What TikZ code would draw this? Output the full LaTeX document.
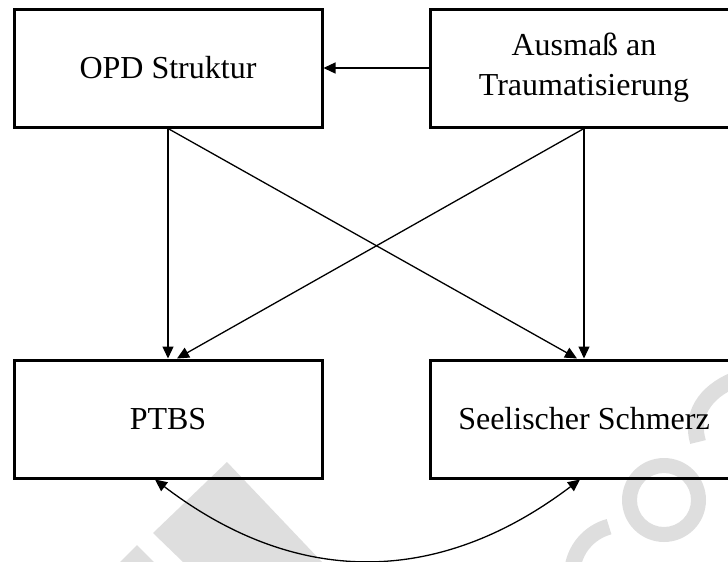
\documentclass[tikz,border=0pt]{standalone}
\usepackage{fontspec}
\setmainfont{Liberation Serif}
\usetikzlibrary{arrows.meta}
\begin{document}
\begin{tikzpicture}[x=1pt,y=-1pt,
  box/.style={draw, line width=3pt, minimum width=308pt, minimum height=118pt,
    inner sep=0pt, align=center, font=\fontsize{32}{40}\selectfont},
  link/.style={line width=1.3pt, -{Triangle[length=12pt,width=11pt]}},
  both/.style={line width=1.3pt, {Triangle[length=12pt,width=11pt]}-{Triangle[length=12pt,width=11pt]}},
  wmfill/.style={fill=black!13},
  wmline/.style={draw=black!13, line width=16pt}]
\useasboundingbox (0,0) rectangle (728,562);

% faint background watermark
\fill[wmfill] (227,462) -- (322,562) -- (183,562) -- (153,533) -- cycle;
\fill[wmfill] (120,562) -- (137,545) -- (154,562) -- cycle;
\fill[wmfill, even odd rule] (664,500) circle (42pt) (664,500) circle (27pt);
\draw[wmline] (622,575) ++(105:50pt) arc[start angle=105, end angle=175, radius=50pt];
\draw[wmline] (734,380) .. controls (705,392) and (690,415) .. (698,442);

% boxes
\node[box] (opd)   at (168,68)  {OPD Struktur};
\node[box] (trauma) at (584,68) {Ausmaß an\\Traumatisierung};
\node[box] (ptbs)  at (168,419) {PTBS};
\node[box] (seel)  at (584,419) {Seelischer Schmerz};

% directed paths
\draw[link] (trauma.west) -- (opd.east);
\draw[link] (opd.south) -- (ptbs.north);
\draw[link] (opd.south) -- ([xshift=-7pt]seel.north);
\draw[link] (trauma.south) -- ([xshift=9pt]ptbs.north);
\draw[link] (trauma.south) -- (seel.north);

% correlation between the outcomes
\draw[both] ([xshift=-13pt]ptbs.south) .. controls (296,587) and (438,587) .. ([xshift=-4pt]seel.south);
\end{tikzpicture}
\end{document}
